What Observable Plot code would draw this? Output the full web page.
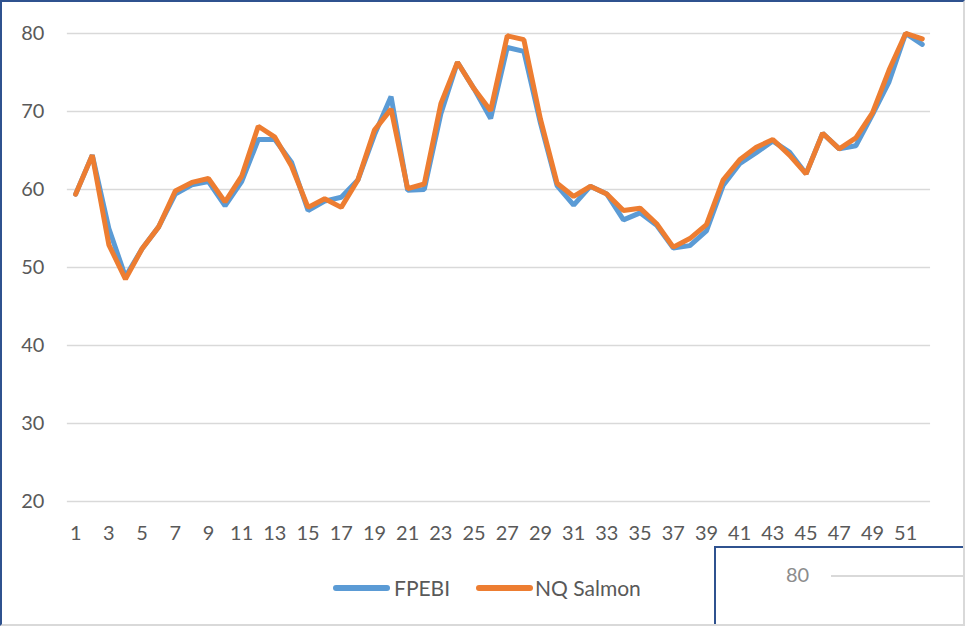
<!DOCTYPE html>
<html>
<head>
<meta charset="utf-8">
<script src="https://cdn.jsdelivr.net/npm/d3@7"></script>
<script src="https://cdn.jsdelivr.net/npm/@observablehq/plot@0.6"></script>
<style>
  html, body { margin: 0; padding: 0; background: #fff; }
  #frame {
    position: relative; width: 965px; height: 626px; overflow: hidden;
    box-sizing: border-box; background: #fff;
    border-top: 2px solid #2F528F; border-left: 2px solid #2F528F;
    border-right: 2px solid #d9d9d9; border-bottom: 2px solid #d9d9d9;
    font-family: Lato, "Open Sans", sans-serif;
  }
  #chart { position: absolute; left: -2px; top: -2px; }
  #legend { position: absolute; left: 331px; top: 573px; display: flex; align-items: center;
    font-size: 21px; color: #595959; white-space: nowrap; }
  .sw { display: inline-block; width: 57px; height: 6px; border-radius: 3px; margin-right: 4px; }
  #inset { position: absolute; left: 712px; top: 544px; width: 270px; height: 100px;
    background: #fff; border-top: 2px solid #2F528F; border-left: 2px solid #2F528F; }
  #inset .lab { position: absolute; left: 70px; top: 14px; font-size: 20px; color: #8c8c8c; }
  #inset .ln { position: absolute; left: 115px; top: 27px; width: 200px; height: 1.5px; background: #d9d9d9; }
</style>
</head>
<body>
<div id="frame">
  <div id="chart"></div>
  <div id="legend">
    <span class="sw" style="background:#5B9BD5"></span><span style="margin-right:26px">FPEBI</span>
    <span class="sw" style="background:#ED7D31;margin-right:2px"></span><span>NQ Salmon</span>
  </div>
  <div id="inset"><span class="lab">80</span><span class="ln"></span></div>
</div>
<script>
const weeks = [1,2,3,4,5,6,7,8,9,10,11,12,13,14,15,16,17,18,19,20,21,22,23,24,25,26,
  27,28,29,30,31,32,33,34,35,36,37,38,39,40,41,42,43,44,45,46,47,48,49,50,51,52];
const fpebi = [59.4,64.4,55.0,48.8,52.4,55.2,59.4,60.6,61.0,57.9,61.0,66.4,66.4,63.5,57.3,58.5,
  59.0,61.2,67.0,71.9,59.9,60.0,69.7,76.3,72.9,69.1,78.2,77.7,68.5,60.5,58.0,60.4,59.4,56.1,
  57.0,55.4,52.5,52.8,54.7,60.5,63.3,64.7,66.2,64.8,62.0,67.2,65.2,65.6,69.6,73.8,80.0,78.6];
const nqSalmon = [59.4,64.4,52.9,48.5,52.4,55.2,59.8,60.9,61.4,58.4,61.7,68.1,66.7,63.0,57.7,58.8,
  57.7,61.2,67.6,70.3,60.1,60.7,71.0,76.3,72.9,70.1,79.7,79.2,69.0,60.8,59.1,60.4,59.4,57.3,
  57.6,55.6,52.6,53.7,55.5,61.2,63.8,65.4,66.4,64.4,62.0,67.2,65.2,66.6,69.8,75.3,80.0,79.3];
const yTicks = [20,30,40,50,60,70,80];
const xTicks = [1,3,5,7,9,11,13,15,17,19,21,23,25,27,29,31,33,35,37,39,41,43,45,47,49,51];
const seriesNames = ["FPEBI", "NQ Salmon"];

const rows = [];
weeks.forEach((w, i) => {
  rows.push({week: w, value: fpebi[i], series: seriesNames[0]});
  rows.push({week: w, value: nqSalmon[i], series: seriesNames[1]});
});

const chart = Plot.plot({
  width: 965,
  height: 560,
  marginLeft: 67,
  marginRight: 33,
  marginTop: 33,
  marginBottom: 58,
  style: {fontFamily: "Lato, 'Open Sans', sans-serif", fontSize: "20px", color: "#595959", background: "transparent"},
  x: {type: "point", domain: weeks, padding: 0.5},
  y: {domain: [20, 80]},
  color: {domain: seriesNames, range: ["#5B9BD5", "#ED7D31"]},
  marks: [
    Plot.gridY(yTicks, {stroke: "#d9d9d9", strokeOpacity: 1, strokeWidth: 1.5}),
    Plot.axisY(yTicks, {tickSize: 0, tickPadding: 23, fontSize: 20, fill: "#595959", label: null}),
    Plot.axisX(xTicks, {tickSize: 0, tickPadding: 24, fontSize: 20, fill: "#595959", label: null}),
    Plot.line(rows.filter(d => d.series === seriesNames[0]), {x: "week", y: "value", stroke: "series", strokeWidth: 5, strokeLinejoin: "miter", strokeLinecap: "round"}),
    Plot.line(rows.filter(d => d.series === seriesNames[1]), {x: "week", y: "value", stroke: "series", strokeWidth: 5, strokeLinejoin: "miter", strokeLinecap: "round"})
  ]
});
document.getElementById("chart").appendChild(chart);
</script>
</body>
</html>
